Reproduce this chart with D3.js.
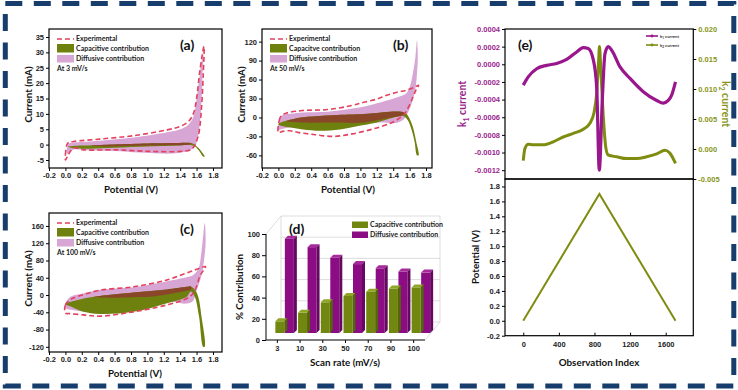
<!DOCTYPE html>
<html lang="en">
<head>
<meta charset="UTF-8">
<title>Capacitive / diffusive contribution</title>
<script src="https://d3js.org/d3.v7.min.js"></script>
<style>
  body { margin: 0; background: #fff; }
  svg { font-family: Lato, "Open Sans", sans-serif; }
  .tick text { font-size: 7.5px; font-weight: 700; fill: #222; }
  .tick line { stroke: #000; }
  .domain { display: none; }
  .title { font-size: 9.8px; font-weight: 700; fill: #111; }
  .leg { font-size: 7px; font-weight: 700; fill: #222; }
  .tag { font-size: 14px; font-weight: 700; fill: #111; }
</style>
</head>
<body>
<div id="chart"></div>
<script>
// ---- data: CV loops, [potential V, current mA] ----
const potTicks = [-0.2, 0, 0.2, 0.4, 0.6, 0.8, 1.0, 1.2, 1.4, 1.6, 1.8];

const aExp = [[0,-5],[0,-3.3],[0.03,0.5],[0.1,1],[0.42,1.8],[0.83,2.9],[1.24,4.8],[1.4,5.9],[1.5,7.5],[1.56,10],[1.6,15],[1.64,24],[1.69,32],[1.68,22],[1.66,12],[1.63,4],[1.6,1.2],[1.54,-1.5],[1.4,-2.2],[1.03,-2.2],[0.63,-1.7],[0.22,-1.7],[0.1,-1.1],[0.035,-3.3]];
const aDiff = [[0.02,-3],[0.04,0.3],[0.12,0.7],[0.42,1.3],[0.83,2.3],[1.24,4],[1.4,5],[1.5,6.5],[1.56,9],[1.6,15],[1.64,23],[1.68,30],[1.67,20],[1.65,10],[1.62,3],[1.58,-0.5],[1.5,-2],[1.35,-2.8],[1.15,-2.9],[0.9,-2.6],[0.6,-2.1],[0.3,-1.9],[0.1,-1.6]];
const aCap = [[0.03,-0.7],[0.2,-0.3],[0.5,0],[0.9,0.3],[1.3,0.5],[1.5,0.6],[1.56,0.3],[1.61,-0.8],[1.66,-2.2],[1.7,-3.9],[1.68,-3.9],[1.63,-2],[1.58,-0.6],[1.52,-0.1],[1.4,-0.3],[1,-0.6],[0.6,-1],[0.3,-1.3],[0.1,-1.2]];
const aBrown = [[0.3,-0.2],[0.5,0],[0.9,0.3],[1.3,0.5],[1.5,0.6],[1.54,0.3],[1.5,0],[1.2,-0.2],[0.8,-0.4],[0.5,-0.6]];

const bExp = [[0,-24],[0.01,-5],[0.03,2],[0.1,7],[0.3,11],[0.6,12.5],[0.9,19],[1.04,24],[1.2,29],[1.32,35],[1.45,40],[1.56,43],[1.66,48],[1.71,51],[1.68,44],[1.64,32],[1.6,20],[1.55,8],[1.5,1],[1.43,-5],[1.36,-9.5],[1.16,-18],[0.9,-26],[0.67,-30],[0.43,-27],[0.25,-24],[0.14,-21],[0.05,-22]];
const bDiff = [[0,-20],[0.02,-2],[0.05,4],[0.15,6],[0.3,8],[0.6,9],[0.9,14],[1.1,19],[1.3,26],[1.45,32],[1.55,37],[1.6,48],[1.64,70],[1.67,95],[1.69,122],[1.7,95],[1.69,70],[1.67,45],[1.62,20],[1.57,5],[1.52,-4],[1.42,-9],[1.3,-8],[1,-10],[0.7,-15],[0.4,-17],[0.2,-15],[0.05,-18]];
const bCap = [[0,-11],[0.1,-5],[0.2,-2],[0.35,1],[0.67,3.6],[1.04,5.5],[1.2,7],[1.36,9],[1.5,9],[1.56,6],[1.6,-2],[1.64,-15],[1.68,-38],[1.71,-60],[1.69,-60],[1.66,-38],[1.62,-18],[1.58,-5],[1.53,2],[1.45,1],[1.36,-1.6],[1.2,-8],[1.04,-12],[0.75,-19],[0.51,-21],[0.3,-19],[0.15,-16]];
const bBrown = [[0.1,-6],[0.2,-2],[0.35,1],[0.67,3.6],[1.04,5.5],[1.2,7],[1.36,9],[1.5,9],[1.55,6],[1.5,3],[1.3,-2],[1.04,-8],[0.63,-8],[0.3,-8]];

const cExp = [[0,-42],[0,-23],[0.05,-12],[0.14,-4],[0.42,11],[0.83,19],[1.24,35],[1.52,54],[1.62,61],[1.71,66],[1.68,56],[1.64,44],[1.6,20],[1.55,2],[1.48,-8],[1.24,-23],[0.83,-39],[0.42,-49],[0.22,-46],[0.05,-43]];
const cDiff = [[0,-30],[0.02,-12],[0.08,-2],[0.2,3],[0.42,12],[0.83,18],[1.24,32],[1.45,40],[1.55,45],[1.62,60],[1.66,100],[1.7,167],[1.71,120],[1.69,80],[1.66,45],[1.6,10],[1.55,-15],[1.45,-20],[1.3,-15],[1,-22],[0.6,-32],[0.3,-38],[0.1,-35]];
const cCap = [[0,-21],[0.1,-14],[0.25,-7],[0.42,-2],[0.83,6],[1.24,13],[1.48,19],[1.53,20],[1.58,12],[1.62,-4],[1.66,-50],[1.7,-120],[1.68,-120],[1.63,-50],[1.58,-5],[1.53,8],[1.48,-4],[1.24,-19],[0.83,-39],[0.42,-44],[0.22,-39],[0.08,-28]];
const cBrown = [[0.35,-4],[0.42,-2],[0.83,6],[1.24,13],[1.48,19],[1.53,20],[1.53,12],[1.48,10],[1.2,0],[1.03,-4],[0.8,-5],[0.5,-6]];

// ---- data: bar chart (d) ----
const scanRates = ["3", "10", "30", "50", "70", "90", "100"];
const capacitive = [11, 19, 29, 35, 39, 42, 43];
const diffusive = [89, 81, 71, 65, 61, 58, 57];
const pctTicks = [0, 20, 40, 60, 80, 100];

// ---- data: panel (e) ----
const k1Index = [0,56,151,263,375,488,600,674,730,787,825,854,888,918,955,993,1087,1199,1348,1499,1573,1629,1667,1710];
const k1Current = [-0.000236,-0.000142,-0.00005,-0.000012,0.00001,0.000055,0.00014,0.00019,0.00018,0.00005,-0.00026,-0.0012,-0.0004,0.00012,0.0002,0.00016,-0.00003,-0.00016,-0.00031,-0.00041,-0.00044,-0.00041,-0.00035,-0.0002];
const k2Index = [0,19,56,112,225,337,449,562,674,749,794,825,847,856,870,899,929,955,1049,1161,1274,1386,1499,1592,1648,1710];
const k2Current = [-0.00195,0.0001,0.0008,0.0007,0.0007,0.0012,0.002,0.0026,0.0033,0.0043,0.006,0.0093,0.0148,0.0171,0.0137,0.0054,0.0001,-0.001,-0.0013,-0.0016,-0.0016,-0.0013,-0.0008,-0.0002,-0.0007,-0.0024];
const potIndex = [0, 855, 1710];
const potValue = [0, 1.7, 0];
const k1Ticks = [0.0004,0.0002,0,-0.0002,-0.0004,-0.0006,-0.0008,-0.001,-0.0012];
const k2Ticks = [0.02,0.015,0.01,0.005,0,-0.005];
const potVTicks = [-0.2,0,0.2,0.4,0.6,0.8,1.0,1.2,1.4,1.6,1.8];
const obsTicks = [0,400,800,1200,1600];

// ---- colours ----
const red = "#e2425f", olive = "#6e800d", brown = "#8a4628", pink = "#d7a6d5";
const purple = "#8c0c83", k1Col = "#99168d", k2Col = "#7e8c10";

const svg = d3.select("#chart").append("svg").attr("width", 738).attr("height", 390);

// dashed frame round the figure
svg.append("rect")
    .attr("x", 5.3).attr("y", 3.5).attr("width", 728.5).attr("height", 382.5)
    .attr("fill", "none").attr("stroke", "#173d6c").attr("stroke-width", 5)
    .attr("stroke-dasharray", "17,11.5");

function cvPanel(cfg) {
    const x = d3.scaleLinear().domain(cfg.xDom).range([cfg.left, cfg.right]);
    const y = d3.scaleLinear().domain(cfg.yDom).range([cfg.bottom, cfg.top]);
    const loop = d3.line().x(d => x(d[0])).y(d => y(d[1])).curve(d3.curveCatmullRomClosed.alpha(0.5));
    const g = svg.append("g");

    svg.append("clipPath").attr("id", "clip-" + cfg.tag).append("rect")
        .attr("x", cfg.left).attr("y", cfg.top)
        .attr("width", cfg.right - cfg.left).attr("height", cfg.bottom - cfg.top);
    const body = g.append("g").attr("clip-path", "url(#clip-" + cfg.tag + ")");
    body.append("path").datum(cfg.diff).attr("d", loop).attr("fill", pink);
    body.append("path").datum(cfg.cap).attr("d", loop).attr("fill", olive);
    body.append("path").datum(cfg.brown).attr("d", loop).attr("fill", brown);
    body.append("path").datum(cfg.exp).attr("d", loop).attr("fill", "none")
        .attr("stroke", red).attr("stroke-width", 1.6).attr("stroke-dasharray", "5,3");

    g.append("g").attr("transform", `translate(0,${cfg.bottom})`)
        .call(d3.axisBottom(x).tickValues(potTicks).tickSize(3).tickPadding(2).tickFormat(d => d.toFixed(1)));
    g.append("g").attr("transform", `translate(${cfg.left},0)`)
        .call(d3.axisLeft(y).tickValues(cfg.yTicks).tickSize(3).tickPadding(2).tickFormat(d => String(d)));

    g.append("rect").attr("x", cfg.left).attr("y", cfg.top)
        .attr("width", cfg.right - cfg.left).attr("height", cfg.bottom - cfg.top)
        .attr("fill", "none").attr("stroke", "#000").attr("stroke-width", 1.2);

    g.append("text").attr("class", "title").attr("text-anchor", "middle")
        .attr("x", cfg.xTitleX).attr("y", cfg.bottom + 25).text("Potential (V)");
    g.append("text").attr("class", "title").attr("text-anchor", "middle")
        .attr("transform", `translate(${cfg.left - 17},${(cfg.top + cfg.bottom) / 2 - 4}) rotate(-90)`)
        .text("Current (mA)");

    g.append("text").attr("class", "tag").attr("x", cfg.left + 131).attr("y", cfg.top + 21).text(cfg.tag);

    // legend
    const lx = cfg.left + 8, ly = cfg.top + 10;
    g.append("line").attr("x1", lx).attr("x2", lx + 17).attr("y1", ly).attr("y2", ly)
        .attr("stroke", red).attr("stroke-width", 1.6).attr("stroke-dasharray", "5,3");
    g.append("rect").attr("x", lx).attr("y", ly + 5).attr("width", 17).attr("height", 8.5).attr("fill", olive);
    g.append("rect").attr("x", lx).attr("y", ly + 16).attr("width", 17).attr("height", 7.5).attr("fill", pink);
    const labels = ["Experimental", cfg.capLabel, "Diffusive contribution"];
    labels.forEach((t, i) => {
        g.append("text").attr("class", "leg").attr("x", lx + 19).attr("y", ly + 2.4 + i * 10).text(t);
    });
    g.append("text").attr("class", "leg").attr("x", lx).attr("y", ly + 32).text(cfg.rate);
}

cvPanel({ tag: "(a)", left: 49, right: 222, top: 29, bottom: 168, xDom: [-0.2, 1.91], yDom: [-7.6, 37.6],
    yTicks: [-5, 0, 5, 10, 15, 20, 25, 30, 35], exp: aExp, diff: aDiff, cap: aCap, brown: aBrown,
    capLabel: "Capacitive contribution", rate: "At 3 mV/s", xTitleX: 131 });
cvPanel({ tag: "(b)", left: 262, right: 432, top: 29, bottom: 168, xDom: [-0.2, 1.873], yDom: [-80, 140],
    yTicks: [-60, -30, 0, 30, 60, 90, 120], exp: bExp, diff: bDiff, cap: bCap, brown: bBrown,
    capLabel: "Capacitve contribution", rate: "At 50 mV/s", xTitleX: 348 });
cvPanel({ tag: "(c)", left: 49, right: 222, top: 213, bottom: 352, xDom: [-0.2, 1.91], yDom: [-132, 190],
    yTicks: [-120, -80, -40, 0, 40, 80, 120, 160], exp: cExp, diff: cDiff, cap: cCap, brown: cBrown,
    capLabel: "Capacitive contribution", rate: "At 100 mV/s", xTitleX: 135 });

// ---- (d) pseudo-3D bars ----
(function barPanel() {
    const g = svg.append("g");
    const x = d3.scaleBand().domain(scanRates).range([266, 425]);
    const y = d3.scaleLinear().domain([0, 100]).range([340, 234]);
    const dx = 15, dy = -18;      // back wall offset
    const base = 7;               // bars sit a little behind the front edge
    const grid = "#cfcfcf";

    // back wall + floor
    pctTicks.forEach(t => {
        g.append("line").attr("x1", 266 + dx).attr("x2", 425 + dx)
            .attr("y1", y(t) + dy).attr("y2", y(t) + dy).attr("stroke", grid).attr("stroke-width", 0.7);
    });
    g.append("line").attr("x1", 266 + dx).attr("x2", 266 + dx).attr("y1", y(0) + dy).attr("y2", y(100) + dy)
        .attr("stroke", grid).attr("stroke-width", 0.7);
    g.append("line").attr("x1", 425 + dx).attr("x2", 425 + dx).attr("y1", y(0) + dy).attr("y2", y(100) + dy)
        .attr("stroke", grid).attr("stroke-width", 0.7);
    g.append("line").attr("x1", 266).attr("x2", 266 + dx).attr("y1", y(100)).attr("y2", y(100) + dy)
        .attr("stroke", grid).attr("stroke-width", 0.7);
    g.append("line").attr("x1", 425).attr("x2", 425 + dx).attr("y1", y(0)).attr("y2", y(0) + dy)
        .attr("stroke", grid).attr("stroke-width", 0.7);

    function bar3d(x0, w, v, front, top, side) {
        const yb = y(0) - base, yt = y(v) - base, d = 3;
        g.append("rect").attr("x", x0).attr("y", yt).attr("width", w).attr("height", yb - yt).attr("fill", front);
        g.append("path").attr("fill", top)
            .attr("d", `M${x0},${yt}L${x0 + d},${yt - d}L${x0 + w + d},${yt - d}L${x0 + w},${yt}Z`);
        g.append("path").attr("fill", side)
            .attr("d", `M${x0 + w},${yt}L${x0 + w + d},${yt - d}L${x0 + w + d},${yb - d}L${x0 + w},${yb}Z`);
    }
    scanRates.forEach((r, i) => {
        const c = x(r) + x.bandwidth() / 2;
        bar3d(c + 7.5, 9, diffusive[i], purple, "#a62a9c", "#650860");
        bar3d(c - 2, 9, capacitive[i], "#72870f", "#8fa626", "#55650a");
    });

    g.append("line").attr("x1", 266).attr("x2", 266).attr("y1", y(0)).attr("y2", y(100)).attr("stroke", "#000");
    g.append("line").attr("x1", 266).attr("x2", 425).attr("y1", y(0)).attr("y2", y(0)).attr("stroke", "#000");
    g.append("g").attr("transform", "translate(266,0)")
        .call(d3.axisLeft(y).tickValues(pctTicks).tickSize(4).tickPadding(2));
    g.append("g").attr("transform", `translate(0,${y(0)})`)
        .call(d3.axisBottom(x).tickSize(3).tickPadding(3));

    g.append("text").attr("class", "title").attr("text-anchor", "middle")
        .attr("transform", "translate(243,287) rotate(-90)").text("% Contribution");
    g.append("text").attr("class", "title").attr("text-anchor", "middle")
        .attr("x", 345).attr("y", 366).text("Scan rate (mV/s)");
    g.append("text").attr("class", "tag").attr("x", 289).attr("y", 234).text("(d)");

    g.append("rect").attr("x", 352).attr("y", 221.5).attr("width", 16).attr("height", 6.5).attr("fill", "#72870f");
    g.append("rect").attr("x", 352).attr("y", 231.5).attr("width", 16).attr("height", 6.5).attr("fill", purple);
    g.append("text").attr("class", "leg").attr("x", 370).attr("y", 227).text("Capacitive contribution");
    g.append("text").attr("class", "leg").attr("x", 370).attr("y", 237).text("Diffusive contribution");
})();

// ---- (e) k1 / k2 currents and potential ----
(function ePanel() {
    const L = 505, R = 693.3, T = 29, M = 179, B = 335.7;
    const g = svg.append("g");
    const x = d3.scaleLinear().domain([-205, 1910]).range([L, R]);
    const y1 = d3.scaleLinear().domain([-0.0013, 0.0004]).range([M, T]);
    const y2 = d3.scaleLinear().domain([-0.005, 0.02]).range([M, T]);
    const yp = d3.scaleLinear().domain([-0.2, 1.9]).range([B, M]);

    const k1 = k1Index.map((d, i) => [d, k1Current[i]]);
    const k2 = k2Index.map((d, i) => [d, k2Current[i]]);
    const pot = potIndex.map((d, i) => [d, potValue[i]]);

    g.append("path").datum(k2).attr("fill", "none").attr("stroke", k2Col).attr("stroke-width", 3)
        .attr("d", d3.line().x(d => x(d[0])).y(d => y2(d[1])).curve(d3.curveMonotoneX));
    g.append("path").datum(k1).attr("fill", "none").attr("stroke", k1Col).attr("stroke-width", 3.2)
        .attr("d", d3.line().x(d => x(d[0])).y(d => y1(d[1])).curve(d3.curveMonotoneX));
    g.append("path").datum(pot).attr("fill", "none").attr("stroke", k2Col).attr("stroke-width", 2)
        .attr("d", d3.line().x(d => x(d[0])).y(d => yp(d[1])));

    const left1 = g.append("g").attr("transform", `translate(${L},0)`)
        .call(d3.axisLeft(y1).tickValues(k1Ticks).tickSize(3).tickPadding(2).tickFormat(d => d.toFixed(4)));
    left1.selectAll("text").style("fill", "#9a1f8e");
    const right2 = g.append("g").attr("transform", `translate(${R},0)`)
        .call(d3.axisRight(y2).tickValues(k2Ticks).tickSize(3).tickPadding(2).tickFormat(d => d.toFixed(3)));
    right2.selectAll("text").style("fill", "#87961a");
    g.append("g").attr("transform", `translate(${L},0)`)
        .call(d3.axisLeft(yp).tickValues(potVTicks).tickSize(3).tickPadding(2).tickFormat(d => d.toFixed(1)));
    g.append("g").attr("transform", `translate(0,${B})`)
        .call(d3.axisBottom(x).tickValues(obsTicks).tickSize(-3).tickPadding(6).tickFormat(d => String(d)));

    g.append("rect").attr("x", L).attr("y", T).attr("width", R - L).attr("height", M - T)
        .attr("fill", "none").attr("stroke", "#000").attr("stroke-width", 1.2);
    g.append("rect").attr("x", L).attr("y", M).attr("width", R - L).attr("height", B - M)
        .attr("fill", "none").attr("stroke", "#000").attr("stroke-width", 1.2);

    g.append("text").attr("class", "tag").attr("x", 518).attr("y", 50).text("(e)");

    const kl = g.append("text").attr("class", "title").style("font-size", "10.5px").style("fill", "#9a1f8e")
        .attr("text-anchor", "middle").attr("transform", "translate(466,104) rotate(-90)");
    kl.append("tspan").text("k");
    kl.append("tspan").attr("dy", 3).style("font-size", "7px").text("1");
    kl.append("tspan").attr("dy", -3).text(" current");
    const kr = g.append("text").attr("class", "title").style("font-size", "10.5px").style("fill", "#87961a")
        .attr("text-anchor", "middle").attr("transform", "translate(722,104) rotate(90)");
    kr.append("tspan").text("k");
    kr.append("tspan").attr("dy", 3).style("font-size", "7px").text("2");
    kr.append("tspan").attr("dy", -3).text(" current");

    g.append("text").attr("class", "title").attr("text-anchor", "middle")
        .attr("transform", "translate(479,257) rotate(-90)").text("Potential (V)");
    g.append("text").attr("class", "title").attr("text-anchor", "middle")
        .attr("x", 599).attr("y", 366).text("Observation Index");

    // small legend
    [["1", k1Col, 36], ["2", k2Col, 45]].forEach(([s, col, yy]) => {
        g.append("line").attr("x1", 646).attr("x2", 658).attr("y1", yy).attr("y2", yy)
            .attr("stroke", col).attr("stroke-width", 1.6);
        g.append("circle").attr("cx", 652).attr("cy", yy).attr("r", 1.4).attr("fill", col);
        const t = g.append("text").attr("x", 660).attr("y", yy + 1.5)
            .style("font-size", "4.3px").style("font-weight", 700).style("fill", "#333");
        t.append("tspan").text("k");
        t.append("tspan").attr("dy", 1).style("font-size", "3px").text(s);
        t.append("tspan").attr("dy", -1).text(" current");
    });
})();
</script>
</body>
</html>
